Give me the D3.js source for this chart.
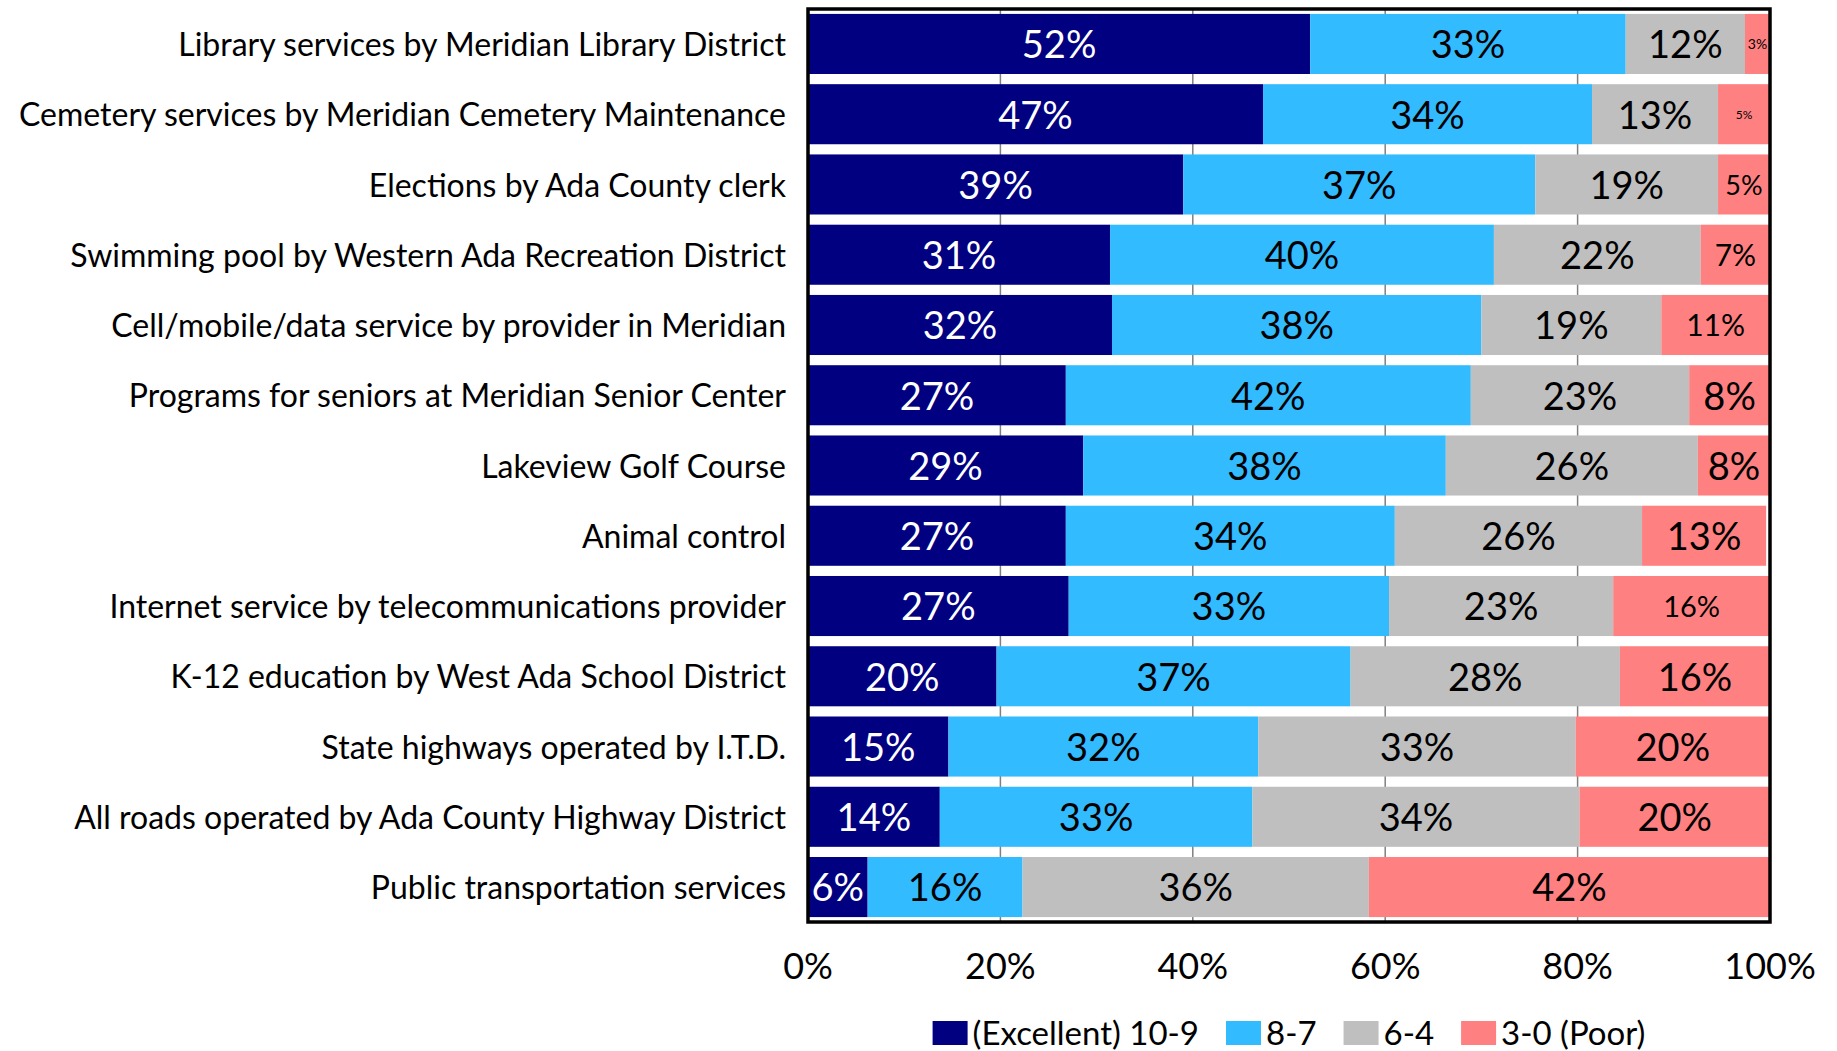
<!DOCTYPE html>
<html>
<head>
<meta charset="utf-8">
<title>Meridian services ratings</title>
<script src="https://d3js.org/d3.v7.min.js"></script>
<style>
  body { margin: 0; background: #fff; }
  text { font-family: Lato, Carlito, Calibri, sans-serif; }
</style>
</head>
<body>
<svg id="chart" width="1837" height="1051"></svg>
<script>
// categories, top to bottom
var services = [
  "Library services by Meridian Library District",
  "Cemetery services by Meridian Cemetery Maintenance",
  "Elections by Ada County clerk",
  "Swimming pool by Western Ada Recreation District",
  "Cell/mobile/data service by provider in Meridian",
  "Programs for seniors at Meridian Senior Center",
  "Lakeview Golf Course",
  "Animal control",
  "Internet service by telecommunications provider",
  "K-12 education by West Ada School District",
  "State highways operated by I.T.D.",
  "All roads operated by Ada County Highway District",
  "Public transportation services"
]

var seriesNames = ["(Excellent) 10-9", "8-7", "6-4", "3-0 (Poor)"]

// percent of respondents in each rating group
var excellent = [52.2, 47.3, 39.0, 31.4, 31.6, 26.8, 28.6, 26.8, 27.1, 19.6, 14.6, 13.7, 6.2]
var good      = [32.8, 34.2, 36.6, 39.9, 38.4, 42.1, 37.7, 34.2, 33.3, 36.8, 32.2, 32.5, 16.1]
var fair      = [12.4, 13.1, 19.0, 21.5, 18.7, 22.7, 26.2, 25.7, 23.3, 28.0, 33.0, 34.0, 36.0]
var poor      = [ 2.6,  5.4,  5.4,  7.2, 11.3,  8.4,  7.5, 12.9, 16.3, 15.6, 20.2, 19.8, 41.7]

var tickValues = [0, 20, 40, 60, 80, 100]

var colors = ["#000080", "#33bbff", "#bfbfbf", "#ff8080"]
var textColors = ["#ffffff", "#000000", "#000000", "#000000"]

// a few labels were shrunk to fit in the original
var labelSize = { "0|3": 14, "1|3": 12, "2|3": 27, "3|3": 30, "4|3": 30, "8|3": 29 }

var svg = d3.select("#chart")
var plotLeft = 808, plotRight = 1770, plotTop = 9, plotBottom = 922

var table = services.map(function(s, i) {
  return { name: s, v0: excellent[i], v1: good[i], v2: fair[i], v3: poor[i] }
})
var stack = d3.stack().keys(["v0", "v1", "v2", "v3"])(table)

var x = d3.scaleLinear().domain([0, 100]).range([plotLeft, plotRight])
var y = d3.scaleBand().domain(services).range([plotTop, plotBottom])
  .paddingInner(0.145).paddingOuter(0.07)

// gridlines behind the bars
svg.append("g").selectAll("line")
  .data(tickValues.slice(1, -1))
  .enter().append("line")
    .attr("x1", d => x(d)).attr("x2", d => x(d))
    .attr("y1", plotTop).attr("y2", plotBottom)
    .attr("stroke", "#808080").attr("stroke-width", 1.5)

var layers = svg.append("g").selectAll("g")
  .data(stack)
  .enter().append("g")
    .attr("fill", (d, i) => colors[i])

layers.selectAll("rect")
  .data(d => d)
  .enter().append("rect")
    .attr("x", d => x(d[0]))
    .attr("width", d => x(d[1]) - x(d[0]))
    .attr("y", d => y(d.data.name))
    .attr("height", y.bandwidth())

// value labels
stack.forEach(function(layer, k) {
  svg.append("g").selectAll("text")
    .data(layer)
    .enter().append("text")
      .attr("x", d => (x(d[0]) + x(d[1])) / 2)
      .attr("y", d => y(d.data.name) + y.bandwidth() / 2)
      .attr("dy", "0.38em")
      .attr("text-anchor", "middle")
      .attr("fill", textColors[k])
      .style("font-size", (d, i) => (labelSize[i + "|" + k] || 38) + "px")
      .text(d => Math.round(d[1] - d[0]) + "%")
})

// plot frame
svg.append("rect")
  .attr("x", plotLeft).attr("y", plotTop)
  .attr("width", plotRight - plotLeft).attr("height", plotBottom - plotTop)
  .attr("fill", "none").attr("stroke", "#000").attr("stroke-width", 3.5)

// category labels
svg.append("g").selectAll("text")
  .data(services)
  .enter().append("text")
    .attr("x", plotLeft - 22)
    .attr("y", d => y(d) + y.bandwidth() / 2)
    .attr("dy", "0.38em")
    .attr("text-anchor", "end")
    .style("font-size", "32px")
    .text(d => d)

// x axis labels
svg.append("g").selectAll("text")
  .data(tickValues)
  .enter().append("text")
    .attr("x", d => x(d))
    .attr("y", 966)
    .attr("dy", "0.36em")
    .attr("text-anchor", "middle")
    .style("font-size", "36px")
    .text(d => d + "%")

// legend, centred under the plot
var legend = svg.append("g")
var pos = 0
seriesNames.forEach(function(name, i) {
  var g = legend.append("g").attr("transform", "translate(" + pos + ",0)")
  g.append("rect").attr("x", 0).attr("y", -12).attr("width", 35).attr("height", 24)
    .attr("fill", colors[i])
  var t = g.append("text").attr("x", 40).attr("y", 0).attr("dy", "0.36em")
    .style("font-size", "33px").text(name)
  pos += 40 + t.node().getComputedTextLength() + 27
})
var legendWidth = pos - 27
legend.attr("transform", "translate(" + ((plotLeft + plotRight) / 2 - legendWidth / 2) + ",1033)")
</script>
</body>
</html>
